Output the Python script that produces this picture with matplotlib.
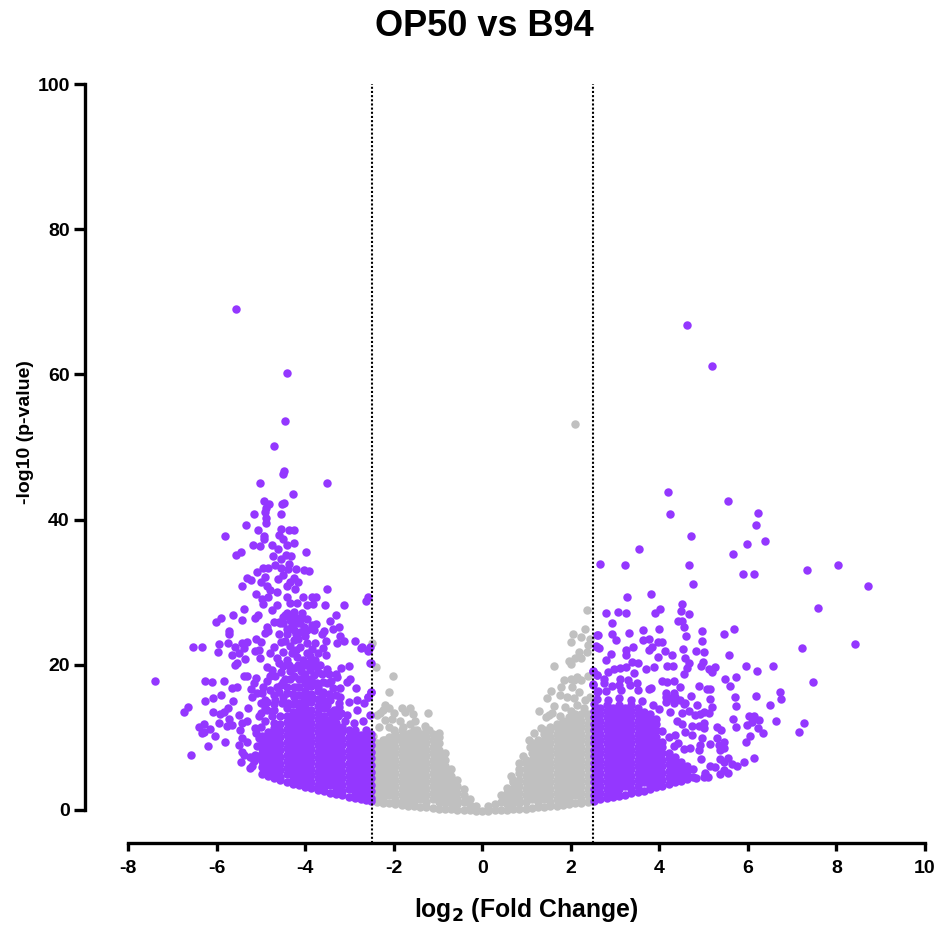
"""
plot.py  --  volcano plot, OP50 vs B94
"""

import matplotlib
matplotlib.use("Agg")
import matplotlib.pyplot as plt

plt.rcParams['font.family'] = ['Liberation Sans', 'DejaVu Sans']
plt.rcParams['font.weight'] = 'bold'
plt.rcParams['mathtext.default'] = 'regular'
plt.rcParams['axes.unicode_minus'] = False

PURPLE = "#9437FF"
GREY = "#C0C0C0"

x_ticks = [-8, -6, -4, -2, 0, 2, 4, 6, 8, 10]
y_ticks = [0, 20, 40, 60, 80, 100]
thresholds = [-2.5, 2.5]

# ── Grey points: the solid cloud, column by column ───────────────────────────
grey_col_x = [-2.38, -2.24, -2.10, -1.96, -1.82, -1.68, -1.54, -1.40, -1.26, -1.12, -0.98, -0.84,
              -0.70, -0.56, -0.42, -0.28, -0.14, 0.0, 0.14, 0.28, 0.42, 0.56, 0.70, 0.84, 0.98,
              1.12, 1.26, 1.40, 1.54, 1.68, 1.82, 1.96, 2.10, 2.24, 2.38]
grey_col_y = [
    [1.1, 2.0, 2.9, 3.8, 4.7, 5.6, 6.5, 7.4, 8.3, 9.2],
    [1.0, 1.5, 2.4, 3.3, 4.2, 5.1, 6.0, 6.9, 7.8, 8.7, 9.6],
    [0.9, 2.0, 2.9, 3.8, 4.7, 5.6, 6.5, 7.4, 8.3, 9.2, 10.1],
    [0.8, 1.5, 2.4, 3.3, 4.2, 5.1, 6.0, 6.9, 7.8, 8.7, 9.6, 10.5],
    [0.7, 1.1, 2.0, 2.9, 3.8, 4.7, 5.6, 6.5, 7.4, 8.3, 9.2, 10.1, 11.0],
    [0.6, 1.5, 2.4, 3.3, 4.2, 5.1, 6.0, 6.9, 7.8, 8.7, 9.6, 10.5],
    [0.5, 1.1, 2.0, 2.9, 3.8, 4.7, 5.6, 6.5, 7.4, 8.3, 9.2, 10.1, 11.0],
    [0.4, 1.5, 2.4, 3.3, 4.2, 5.1, 6.0, 6.9, 7.8, 8.7, 9.6, 10.5],
    [0.35, 1.1, 2.0, 2.9, 3.8, 4.7, 5.6, 6.5, 7.4, 8.3, 9.2, 10.1, 11.0],
    [0.3, 1.5, 2.4, 3.3, 4.2, 5.1, 6.0, 6.9, 7.8, 8.7, 9.6, 10.5],
    [0.2, 1.1, 2.0, 2.9, 3.8, 4.7, 5.6, 6.5, 7.4, 8.3, 9.2, 10.1],
    [0.15, 0.9, 1.5, 2.4, 3.3, 4.2, 5.1, 6.0, 6.9, 7.8],
    [0.1, 1.1, 2.0, 2.9, 3.8, 4.7, 5.6],
    [0.06, 0.8, 1.5, 2.4, 3.3, 4.2],
    [0.04, 1.1, 2.0, 2.9],
    [0.02, 0.7, 1.5],
    [-0.1, 0.6],
    [-0.1],
    [-0.1, 0.6],
    [0.02, 0.8],
    [0.04, 1.1, 2.0],
    [0.06, 0.8, 1.5, 2.4, 3.0],
    [0.1, 1.1, 2.0, 2.9, 3.8, 4.2],
    [0.15, 0.9, 1.5, 2.4, 3.3, 4.2, 5.1, 5.6],
    [0.2, 1.1, 2.0, 2.9, 3.8, 4.7, 5.6, 6.5, 6.9],
    [0.3, 1.5, 2.4, 3.3, 4.2, 5.1, 6.0, 6.9, 7.8, 8.7, 9.2],
    [0.35, 1.1, 2.0, 2.9, 3.8, 4.7, 5.6, 6.5, 7.4, 8.3, 9.2, 9.6],
    [0.4, 1.5, 2.4, 3.3, 4.2, 5.1, 6.0, 6.9, 7.8, 8.7, 9.6, 10.5, 11.0],
    [0.5, 1.1, 2.0, 2.9, 3.8, 4.7, 5.6, 6.5, 7.4, 8.3, 9.2, 10.1, 11.0, 11.4],
    [0.6, 1.5, 2.4, 3.3, 4.2, 5.1, 6.0, 6.9, 7.8, 8.7, 9.6, 10.5, 11.4, 11.9],
    [0.7, 1.1, 2.0, 2.9, 3.8, 4.7, 5.6, 6.5, 7.4, 8.3, 9.2, 10.1, 11.0, 11.9, 12.3],
    [0.8, 1.5, 2.4, 3.3, 4.2, 5.1, 6.0, 6.9, 7.8, 8.7, 9.6, 10.5, 11.4, 12.3, 12.8],
    [0.9, 2.0, 2.9, 3.8, 4.7, 5.6, 6.5, 7.4, 8.3, 9.2, 10.1, 11.0, 11.9, 12.8, 13.2],
    [1.0, 1.5, 2.4, 3.3, 4.2, 5.1, 6.0, 6.9, 7.8, 8.7, 9.6, 10.5, 11.4, 12.3, 13.2],
    [1.1, 2.0, 2.9, 3.8, 4.7, 5.6, 6.5, 7.4, 8.3, 9.2, 10.1, 11.0, 11.9, 12.8, 13.2],
]

# ── Grey points: the loose ones above the cloud ──────────────────────────────
grey_loose = [
    (2.1, 53.2), (-2.48, 23.05), (-2.4, 19.65), (-2.01, 18.4), (-2.1, 16.25), (-2.19, 14.5),
    (-2.11, 14.0), (-2.38, 13.1), (-2.3, 13.3), (-2.23, 13.8), (-2.0, 13.3), (-1.81, 14.0),
    (-1.64, 14.0), (-1.74, 13.55), (-1.56, 13.2), (-1.23, 13.4), (-2.19, 12.4), (-2.04, 12.6),
    (-1.85, 12.2), (-1.63, 11.9), (-1.51, 12.2), (-1.3, 11.6), (-2.34, 11.4), (-2.11, 11.5),
    (-1.78, 11.5), (-2.47, 10.2), (-0.97, 10.55), (-1.21, 11.0), (-2.0, 11.0), (-2.19, 9.65),
    (-1.93, 10.1), (-1.47, 11.0), (-1.63, 10.6),
    (2.37, 27.55), (2.31, 25.0), (2.05, 24.3), (2.22, 23.8), (2.0, 23.2), (2.43, 23.5),
    (2.4, 22.7), (2.18, 21.8), (2.37, 21.8), (2.1, 20.9), (2.22, 20.9), (1.97, 20.5),
    (2.0, 20.1), (1.61, 19.9), (1.85, 17.9), (2.0, 18.1), (2.14, 18.3), (2.07, 17.9),
    (2.22, 17.9), (2.38, 18.4), (1.79, 16.9), (2.02, 16.9), (1.56, 16.4), (1.46, 15.4),
    (1.76, 15.8), (1.91, 15.6), (2.18, 16.3), (2.33, 15.15), (2.07, 15.4), (2.44, 15.6),
    (1.29, 13.7), (1.61, 14.3), (1.88, 14.2), (2.14, 14.5), (1.45, 12.8), (1.58, 13.4),
    (1.5, 13.1), (1.33, 11.25), (1.16, 10.55), (1.05, 9.65), (1.09, 8.7), (0.92, 7.5),
    (0.83, 6.45), (0.65, 4.75), (2.3, 14.0), (2.0, 13.6), (1.75, 13.0),
]

# ── Purple points, left side: solid part, column by column ───────────────────
left_col_x = [-4.98, -4.84, -4.70, -4.56, -4.42, -4.28, -4.14, -4.00, -3.86, -3.72, -3.58, -3.44,
              -3.30, -3.16, -3.02, -2.88, -2.74, -2.62, -2.51]
left_col_y = [
    [5.0, 5.9, 6.8, 7.7, 8.6, 9.5, 10.2],
    [4.7, 5.4, 6.3, 7.2, 8.1, 9.0, 9.9, 10.8],
    [4.4, 5.0, 5.9, 6.8, 7.7, 8.6, 9.5, 10.4, 11.3, 12.0],
    [4.15, 4.6, 5.5, 6.4, 7.3, 8.2, 9.1, 10.0, 10.9, 11.8, 12.9],
    [3.9, 4.9, 5.8, 6.7, 7.6, 8.5, 9.4, 10.3, 11.2, 12.1, 13.0, 14.0],
    [3.65, 4.5, 5.4, 6.3, 7.2, 8.1, 9.0, 9.9, 10.8, 11.7, 12.6, 13.5, 14.6, 16.0],
    [3.4, 4.0, 4.9, 5.8, 6.7, 7.6, 8.5, 9.4, 10.3, 11.2, 12.1, 13.0, 13.9, 14.8, 15.9, 17.0, 18.0],
    [3.2, 3.6, 4.5, 5.4, 6.3, 7.2, 8.1, 9.0, 9.9, 10.8, 11.7, 12.6, 13.5, 14.4, 15.5, 16.4, 17.5, 18.5],
    [3.0, 3.9, 4.8, 5.7, 6.6, 7.5, 8.4, 9.3, 10.2, 11.1, 12.0, 12.9, 13.8, 14.9, 16.0, 17.1, 18.0],
    [2.75, 3.5, 4.4, 5.3, 6.2, 7.1, 8.0, 8.9, 9.8, 10.7, 11.6, 12.5, 13.4, 14.3, 15.3, 16.4, 17.0],
    [2.55, 3.1, 4.0, 4.9, 5.8, 6.7, 7.6, 8.5, 9.4, 10.3, 11.2, 12.1, 13.0, 14.0, 15.0],
    [2.35, 3.4, 4.3, 5.2, 6.1, 7.0, 7.9, 8.8, 9.7, 10.6, 11.5, 12.4, 13.5],
    [2.2, 3.0, 3.9, 4.8, 5.7, 6.6, 7.5, 8.4, 9.3, 10.2, 11.1, 12.0],
    [2.0, 2.6, 3.5, 4.4, 5.3, 6.2, 7.1, 8.0, 8.9, 9.8, 10.7, 11.5],
    [1.8, 2.9, 3.8, 4.7, 5.6, 6.5, 7.4, 8.3, 9.2, 10.1, 11.0],
    [1.65, 2.5, 3.4, 4.3, 5.2, 6.1, 7.0, 7.9, 8.8, 9.7, 10.6, 11.0],
    [1.5, 2.2, 3.1, 4.0, 4.9, 5.8, 6.7, 7.6, 8.5, 9.4, 10.3],
    [1.4, 2.1, 3.0, 3.9, 4.8, 5.7, 6.6, 7.5, 8.4, 9.3, 10.2, 11.0],
    [1.25, 1.7, 2.6, 3.5, 4.4, 5.3, 6.2, 7.1, 8.0, 8.9, 9.8, 10.5],
]

# ── Purple points, left side: the loose ones ─────────────────────────────────
left_loose = [
    (-5.56, 69.0), (-4.4, 60.2), (-4.45, 53.6), (-4.7, 50.2), (-4.47, 46.7), (-4.5, 46.3),
    (-5.03, 45.1), (-3.51, 45.0), (-4.28, 43.5), (-4.92, 42.5), (-4.82, 42.1), (-4.88, 41.6),
    (-4.47, 42.3), (-4.52, 42.1), (-4.9, 41.0), (-5.16, 40.8), (-4.55, 40.8), (-4.89, 40.2),
    (-4.89, 39.6), (-5.34, 39.3), (-5.07, 38.5), (-4.54, 38.7), (-4.37, 38.5), (-4.25, 38.6),
    (-4.58, 37.9), (-5.8, 37.7), (-4.92, 37.8), (-4.92, 37.3), (-4.5, 37.3), (-4.26, 36.8),
    (-4.41, 36.5), (-5.17, 36.5), (-5.01, 36.4), (-4.75, 36.5), (-4.61, 36.0), (-3.97, 35.5),
    (-5.44, 35.6), (-5.55, 35.1), (-4.72, 35.0), (-4.43, 35.1), (-4.31, 35.0), (-4.55, 34.6),
    (-4.37, 33.9), (-4.38, 33.2), (-4.69, 33.8), (-4.54, 33.4), (-4.94, 33.4), (-4.83, 33.4),
    (-5.08, 32.8), (-4.21, 33.2), (-4.03, 33.0), (-3.91, 32.9), (-4.51, 32.4), (-4.91, 32.1),
    (-5.32, 31.9), (-5.22, 31.7), (-4.61, 31.8), (-4.99, 31.4), (-4.26, 31.9), (-4.16, 31.4),
    (-4.34, 31.4), (-5.43, 30.8), (-4.86, 30.8), (-4.64, 30.0), (-4.41, 30.8), (-4.22, 30.5),
    (-3.51, 30.5), (-4.79, 30.3), (-5.1, 29.7), (-4.83, 29.4), (-2.59, 29.3), (-2.62, 28.8),
    (-4.41, 29.4), (-4.35, 28.5), (-4.05, 29.4), (-3.85, 29.3), (-3.75, 29.3), (-4.98, 29.0),
    (-4.94, 28.4), (-4.64, 28.2), (-4.18, 28.5), (-3.96, 28.2), (-3.82, 28.4), (-3.54, 28.3),
    (-3.12, 28.2), (-5.39, 27.7), (-4.75, 27.5), (-4.26, 27.3), (-4.06, 27.2), (-5.62, 26.8),
    (-5.9, 26.5), (-5.07, 26.8), (-5.13, 26.5), (-5.42, 26.2), (-6.02, 25.9), (-3.31, 26.8),
    (-3.43, 26.1), (-4.71, 25.9), (-4.6, 25.9), (-4.49, 25.7), (-4.34, 26.2), (-4.18, 25.7),
    (-4.03, 25.25), (-3.85, 25.5), (-3.75, 25.6), (-3.58, 24.6), (-3.62, 24.25), (-3.38, 25.0),
    (-3.23, 25.2), (-4.86, 25.25), (-4.83, 24.6), (-4.9, 24.35), (-5.73, 24.6), (-5.71, 24.25),
    (-3.21, 23.9), (-3.27, 23.05), (-3.13, 23.3), (-2.88, 23.3), (-2.73, 22.35), (-2.57, 21.95),
    (-2.51, 20.3), (-4.56, 25.7), (-4.41, 25.0), (-4.26, 24.8), (-4.11, 24.55), (-3.96, 24.8),
    (-3.81, 24.8), (-4.5, 26.6), (-4.3, 26.8), (-4.4, 27.2), (-4.2, 26.4),
    (-6.53, 22.45), (-6.34, 22.45), (-5.95, 22.9), (-5.97, 21.8), (-5.74, 23.0), (-5.58, 22.5),
    (-5.43, 23.0), (-5.31, 23.2), (-5.39, 22.3), (-5.65, 21.3), (-5.5, 21.6), (-5.11, 23.5),
    (-5.0, 23.2), (-5.13, 21.95), (-5.05, 22.1), (-4.71, 22.5), (-4.79, 21.6), (-4.45, 23.3),
    (-4.26, 23.4), (-4.11, 22.5), (-3.96, 23.0), (-3.77, 23.0), (-3.53, 23.3), (-3.6, 22.3),
    (-3.53, 21.35), (-4.49, 21.8), (-4.3, 21.6), (-3.96, 21.6), (-3.77, 20.65), (-5.35, 20.75),
    (-5.58, 20.0), (-5.54, 20.2), (-5.01, 20.95), (-4.64, 20.9), (-4.41, 20.7), (-4.18, 21.1),
    (-4.86, 19.75), (-4.75, 19.3), (-4.6, 20.2), (-4.37, 20.0), (-4.15, 20.0), (-3.92, 20.2),
    (-3.66, 20.0), (-3.01, 19.9), (-3.18, 19.5), (-5.39, 18.5), (-5.31, 18.4), (-3.45, 18.7),
    (-3.3, 18.7), (-3.28, 18.3), (-3.62, 18.8), (-3.81, 18.6), (-4.03, 18.8), (-4.26, 18.4),
    (-4.45, 18.1), (-4.67, 18.4), (-4.79, 18.4), (-5.1, 18.15), (-5.16, 17.45), (-5.22, 16.6),
    (-2.98, 18.05), (-3.06, 17.6), (-6.25, 17.8), (-6.1, 17.6), (-5.84, 17.7), (-5.65, 16.8),
    (-5.54, 17.0), (-2.86, 16.85), (-2.51, 16.3), (-3.36, 16.8), (-3.21, 16.8), (-3.51, 17.45),
    (-3.73, 17.45), (-3.96, 17.25), (-4.18, 17.0), (-4.41, 17.0), (-4.64, 17.0), (-4.94, 17.0),
    (-4.79, 16.55), (-5.2, 15.6), (-5.09, 16.1), (-4.98, 16.1), (-4.9, 15.15), (-4.86, 14.9),
    (-3.21, 15.5), (-2.58, 15.5), (-2.68, 14.7), (-3.02, 14.9), (-2.83, 15.15), (-6.25, 14.95),
    (-6.07, 15.4), (-5.89, 15.8), (-5.63, 15.05), (-6.65, 14.25), (-6.73, 13.55), (-7.38, 17.8),
    (-6.07, 13.45), (-5.92, 13.2), (-5.84, 13.55), (-5.75, 14.0), (-5.28, 14.05), (-5.5, 13.1),
    (-5.05, 12.95), (-4.86, 13.8), (-4.71, 13.8), (-4.52, 14.7), (-4.26, 15.6), (-4.03, 15.15),
    (-4.41, 16.1), (-3.85, 15.6), (-3.62, 15.6), (-3.43, 15.15), (-3.24, 14.7), (-3.24, 14.25),
    (-2.83, 13.8), (-3.06, 13.1), (-2.53, 13.1), (-5.73, 12.6), (-5.65, 11.7), (-5.77, 11.55),
    (-5.95, 12.0), (-5.31, 12.3), (-5.43, 11.95), (-6.28, 11.8), (-6.39, 11.5), (-6.14, 11.2),
    (-6.33, 10.65), (-6.29, 10.8), (-6.03, 10.2), (-6.2, 8.8), (-5.8, 9.35), (-6.57, 7.55),
    (-5.47, 11.0), (-5.43, 9.9), (-5.31, 9.4), (-5.5, 9.0), (-5.43, 8.05), (-5.39, 7.6),
    (-5.44, 6.55), (-5.13, 11.25), (-5.24, 7.35), (-5.13, 7.6), (-5.25, 5.75), (-5.2, 6.0),
    (-4.98, 7.8), (-4.95, 5.05), (-5.05, 9.9), (-5.09, 8.75), (-5.1, 10.6), (-5.15, 6.8),
    (-2.72, 22.4), (-2.57, 22.1), (-2.53, 22.4), (-2.53, 20.3), (-2.51, 16.3), (-2.59, 15.5),
    (-4.55, 19.0), (-4.35, 19.1), (-4.1, 19.2), (-3.9, 19.3), (-3.7, 19.0), (-3.5, 19.4),
    (-4.5, 17.6), (-4.35, 18.0), (-4.6, 16.2), (-4.5, 15.6), (-4.68, 15.2), (-4.7, 14.6),
    (-4.38, 14.8), (-3.45, 16.0), (-3.3, 15.9), (-3.5, 14.4), (-3.35, 13.8), (-3.18, 13.3),
    (-4.55, 23.2), (-4.35, 22.6), (-4.15, 23.6), (-3.85, 22.2), (-4.2, 22.0), (-4.6, 24.3),
    (-4.4, 24.2), (-4.2, 24.2), (-4.0, 24.0), (-3.7, 21.6), (-3.9, 21.2), (-4.05, 20.6),
    (-4.3, 25.5), (-4.12, 25.8), (-4.45, 26.9), (-4.25, 26.2), (-3.95, 26.3), (-4.1, 26.6),
    (-3.6, 17.6), (-3.42, 17.7), (-4.55, 17.2), (-4.25, 16.9), (-4.9, 14.0), (-5.0, 13.4),
    (-5.0, 11.4), (-4.9, 12.2), (-4.75, 13.0), (-5.0, 14.8), (-4.95, 6.4), (-5.1, 7.2),
    (-4.7, 15.9), (-4.85, 17.7), (-4.5, 19.8), (-4.25, 19.6), (-4.0, 20.0), (-3.8, 19.9),
    (-3.4, 12.8), (-3.1, 12.3), (-2.9, 12.0), (-2.7, 12.2), (-3.25, 12.9), (-3.6, 16.3),
]

# ── Purple points, right side: solid part, column by column ──────────────────
right_col_x = [2.53, 2.67, 2.81, 2.95, 3.09, 3.23, 3.37, 3.51, 3.65, 3.79, 3.93, 4.07, 4.21, 4.35,
               4.49, 4.63, 4.77]
right_col_y = [
    [1.3, 2.0, 2.9, 3.8, 4.7, 5.6, 6.5, 7.4, 8.3, 9.2, 10.1, 11.0, 11.9, 12.8, 13.7, 14.6],
    [1.45, 2.4, 3.3, 4.2, 5.1, 6.0, 6.9, 7.8, 8.7, 9.6, 10.5, 11.4, 12.3, 13.2, 14.1],
    [1.6, 2.0, 2.9, 3.8, 4.7, 5.6, 6.5, 7.4, 8.3, 9.2, 10.1, 11.0, 11.9, 12.8, 13.7, 14.5],
    [1.75, 2.4, 3.3, 4.2, 5.1, 6.0, 6.9, 7.8, 8.7, 9.6, 10.5, 11.4, 12.3, 13.2, 14.1],
    [1.9, 2.9, 3.8, 4.7, 5.6, 6.5, 7.4, 8.3, 9.2, 10.1, 11.0, 11.9, 12.8, 13.7, 14.4],
    [2.1, 3.3, 4.2, 5.1, 6.0, 6.9, 7.8, 8.7, 9.6, 10.5, 11.4, 12.3, 13.2, 14.1],
    [2.3, 2.9, 3.8, 4.7, 5.6, 6.5, 7.4, 8.3, 9.2, 10.1, 11.0, 11.9, 12.8, 13.7, 14.5],
    [2.45, 3.3, 4.2, 5.1, 6.0, 6.9, 7.8, 8.7, 9.6, 10.5, 11.4, 12.3, 13.2, 14.1],
    [2.65, 3.8, 4.7, 5.6, 6.5, 7.4, 8.3, 9.2, 10.1, 11.0, 11.9, 12.8, 13.5],
    [2.85, 3.3, 4.2, 5.1, 6.0, 6.9, 7.8, 8.7, 9.6, 10.5, 11.4, 12.3, 13.2],
    [3.1, 3.8, 4.7, 5.6, 6.5, 7.4, 8.3, 9.2, 10.1, 11.0, 11.9, 12.6],
    [3.3, 4.2, 5.1, 6.0, 6.9, 7.8, 8.7, 9.3, 10.9],
    [3.55, 4.5, 5.4, 6.3, 7.2, 7.9],
    [3.8, 4.7, 5.6, 6.5, 7.3],
    [4.05, 5.0, 5.9, 6.6],
    [4.3, 5.2, 6.1],
    [4.55, 5.6],
]

# ── Purple points, right side: the loose ones ────────────────────────────────
right_loose = [
    (4.62, 66.8), (5.2, 61.1), (4.2, 43.8), (5.56, 42.5), (6.22, 40.9), (4.25, 40.8), (6.18, 39.3),
    (4.71, 37.7), (5.97, 36.7), (6.38, 37.05), (3.53, 35.9), (5.66, 35.2), (2.67, 33.9), (3.23, 33.7),
    (4.67, 33.8), (7.33, 33.05), (8.04, 33.8), (5.89, 32.5), (6.14, 32.5), (8.71, 30.8), (4.77, 31.1),
    (3.28, 29.3), (3.81, 29.7), (7.58, 27.8), (4.52, 28.4), (4.49, 27.4), (4.01, 27.7), (3.91, 27.1),
    (2.79, 27.2), (3.07, 27.3), (3.25, 27.2), (4.68, 27.0), (4.43, 26.0), (4.51, 26.1), (4.55, 25.2),
    (2.93, 25.7), (3.99, 25.0), (3.64, 24.8), (4.97, 24.7), (5.68, 24.9), (5.45, 24.3), (2.61, 24.1),
    (2.92, 24.2), (3.32, 24.4), (4.61, 23.9), (3.02, 23.4), (3.63, 23.4), (3.76, 23.6), (3.98, 23.2),
    (4.06, 23.2), (4.97, 23.3), (2.57, 22.6), (2.64, 22.3), (3.4, 22.5), (3.83, 22.5), (3.77, 22.1),
    (4.54, 22.2), (7.23, 22.3), (8.43, 22.9), (3.24, 22.0), (3.24, 21.35), (2.9, 21.5), (4.12, 21.9),
    (4.28, 21.35), (4.83, 21.95), (5.01, 21.7), (5.58, 21.35), (3.98, 21.1), (4.57, 20.9), (2.79, 20.6),
    (3.38, 20.35), (3.51, 20.3), (4.98, 20.4), (4.66, 20.3), (4.17, 19.9), (4.3, 19.9), (4.95, 19.8),
    (5.96, 19.9), (6.57, 19.8), (3.88, 19.65), (3.7, 19.4), (4.62, 19.5), (5.26, 19.7), (5.13, 19.4),
    (5.19, 19.05), (6.2, 19.2), (2.97, 19.4), (3.12, 19.5), (3.25, 19.65), (2.84, 19.05), (2.51, 19.2),
    (2.59, 18.6), (3.42, 18.9), (4.55, 18.7), (5.74, 18.3), (5.49, 18.0), (3.12, 18.1), (2.74, 18.05),
    (4.06, 17.7), (4.17, 17.6), (4.32, 17.7), (7.47, 17.6), (2.51, 17.3), (2.74, 17.5), (3.29, 17.9),
    (3.49, 17.45), (3.08, 17.2), (3.34, 17.2), (2.93, 17.1), (5.59, 17.1), (4.89, 17.1), (4.47, 16.95),
    (5.07, 16.7), (5.15, 16.65), (3.76, 16.7), (3.81, 16.75), (3.52, 16.5), (3.14, 16.5), (6.72, 16.3),
    (2.61, 16.4), (2.79, 16.45), (4.14, 16.1), (4.32, 16.1), (6.18, 15.65), (6.75, 15.25), (5.71, 15.5),
    (4.71, 15.65), (5.15, 15.25), (6.51, 14.5), (5.74, 14.3), (4.85, 14.4), (5.18, 14.25), (4.59, 14.7),
    (4.14, 15.6), (4.25, 15.4), (4.36, 15.6), (4.47, 15.15), (4.14, 14.9), (4.32, 14.7), (4.55, 14.6),
    (4.66, 13.65), (4.51, 13.3), (4.25, 13.55), (5.13, 13.3), (5.0, 13.55), (4.81, 13.1), (4.92, 13.2),
    (6.03, 12.9), (6.14, 12.95), (6.26, 12.4), (5.66, 12.5), (6.63, 12.2), (7.27, 11.95), (7.15, 10.7),
    (5.99, 11.7), (6.09, 12.1), (6.22, 11.3), (6.34, 10.6), (5.73, 11.45), (5.3, 11.5), (5.4, 11.0),
    (4.4, 12.3), (4.52, 11.85), (4.74, 11.6), (4.89, 11.6), (5.0, 11.95), (5.0, 11.25), (6.05, 10.2),
    (5.95, 9.4), (5.31, 9.9), (5.47, 9.4), (4.96, 9.9), (4.74, 10.35), (4.59, 10.8), (4.36, 10.35),
    (4.21, 10.1), (5.15, 9.05), (4.92, 9.0), (4.89, 8.3), (5.35, 9.0), (5.38, 8.3), (5.47, 8.5),
    (4.7, 8.6), (4.55, 8.4), (4.43, 9.2), (4.32, 8.75), (4.95, 7.0), (6.14, 7.1), (5.92, 6.6),
    (5.38, 7.0), (5.56, 7.1), (5.45, 6.65), (5.64, 6.35), (5.76, 6.1), (5.15, 6.0), (5.26, 5.9),
    (5.45, 5.5), (5.38, 5.0), (5.54, 5.15), (5.04, 5.15), (5.1, 4.6), (5.0, 4.5), (4.83, 4.35),
    (2.6, 24.1), (2.6, 22.4), (2.5, 19.1), (2.59, 18.6), (2.5, 17.2), (2.6, 16.3),
    (2.6, 15.3), (2.85, 15.2), (3.1, 15.4), (3.35, 15.1), (3.6, 15.0), (3.85, 14.4), (4.0, 13.9),
]


# ── Plot ──────────────────────────────────────────────────────────────────────

def draw_points(ax, col_x, col_y, loose, color):
    xs, ys = [], []
    for x, col in zip(col_x, col_y):
        xs += [x] * len(col)
        ys += col
    xs += [p[0] for p in loose]
    ys += [p[1] for p in loose]
    ax.scatter(xs, ys, s=37, color=color, linewidths=0, clip_on=False, zorder=2)


fig = plt.figure(figsize=(9.38, 9.26), dpi=100)
ax = fig.add_axes([128 / 938, 1 - 810 / 926, (925 - 128) / 938, (810 - 84) / 926])

draw_points(ax, grey_col_x, grey_col_y, grey_loose, GREY)
draw_points(ax, left_col_x, left_col_y, left_loose, PURPLE)
draw_points(ax, right_col_x, right_col_y, right_loose, PURPLE)

for t in thresholds:
    ax.plot([t, t], [-4.5, 100], color="black", lw=1.5, ls=(0, (1, 1)), clip_on=False, zorder=3)

ax.set_xlim(-8, 10)
ax.set_ylim(0, 100)
ax.set_xticks(x_ticks)
ax.set_yticks(y_ticks)

for side in ("top", "right"):
    ax.spines[side].set_visible(False)
ax.spines["left"].set_position(("outward", 31))
ax.spines["bottom"].set_position(("outward", 24))
ax.spines["left"].set_linewidth(2.4)
ax.spines["bottom"].set_linewidth(2.4)
ax.tick_params(axis="x", length=6, width=2.4, labelsize=14, pad=6)
ax.tick_params(axis="y", length=8, width=2.4, labelsize=14, pad=3)

fig.text(484 / 938, 1 - 27 / 926, "OP50 vs B94", ha="center", va="center",
         fontsize=26, fontweight="bold")
fig.text(526 / 938, 1 - 910 / 926, r"log$_{\mathbf{2}}$ (Fold Change)", ha="center", va="center",
         fontsize=17.8, fontweight="bold")
fig.text(25 / 938, 1 - 432 / 926, "-log10 (p-value)", ha="center", va="center", rotation=90,
         fontsize=14, fontweight="bold")

fig.savefig("out.png", dpi=100)
